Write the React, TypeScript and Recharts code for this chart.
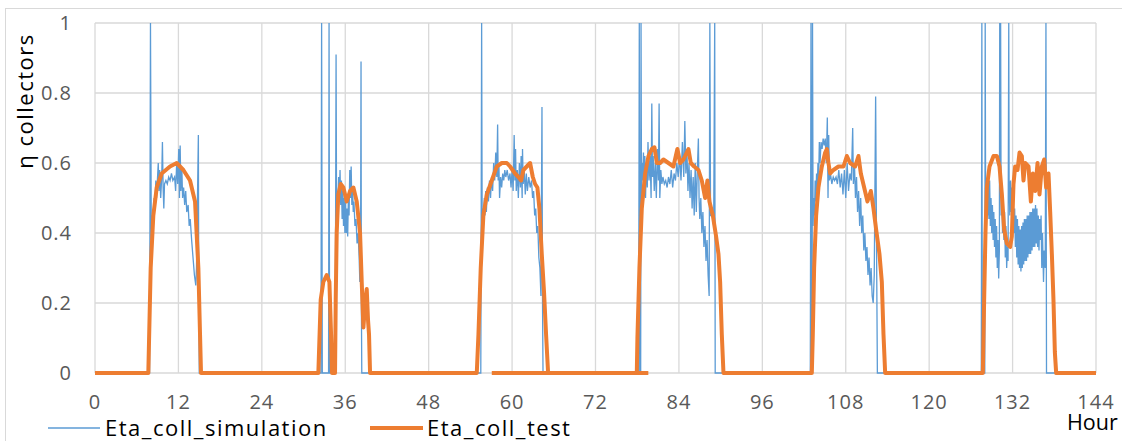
import { LineChart, Line, XAxis, YAxis, CartesianGrid } from "recharts";

const HOUR_TICKS = [0, 12, 24, 36, 48, 60, 72, 84, 96, 108, 120, 132, 144];
const ETA_TICKS = [0, 0.2, 0.4, 0.6, 0.8, 1];

const SERIES_NAMES = ["Eta_coll_simulation", "Eta_coll_test"];
const AXIS_TITLES = { y: "η collectors", x: "Hour" };

// [hour, eta]; spikes that leave the plot are set to 1
const simulation: [number, number][] = [
  [0, 0], [7.85, 0],
  [7.98, 1], [8.1, 0.38], [8.25, 0.45], [8.35, 0.42], [8.5, 0.5], [8.6, 0.47], [8.75, 0.55], [8.85, 0.5],
  [9.0, 0.56], [9.1, 0.6], [9.2, 0.52], [9.3, 0.58], [9.45, 0.5], [9.6, 0.56], [9.7, 0.66], [9.8, 0.53],
  [9.9, 0.47], [10.0, 0.54], [10.2, 0.55], [10.4, 0.54], [10.6, 0.56], [10.8, 0.55], [11.0, 0.57],
  [11.2, 0.55], [11.45, 0.56], [11.6, 0.52], [11.75, 0.6], [11.9, 0.54], [12.05, 0.64], [12.15, 0.5],
  [12.25, 0.65], [12.35, 0.52], [12.5, 0.58], [12.6, 0.5], [12.75, 0.53], [12.9, 0.48], [13.05, 0.52],
  [13.2, 0.46], [13.4, 0.48], [13.55, 0.42], [13.7, 0.44], [13.9, 0.38], [14.1, 0.33], [14.3, 0.28],
  [14.5, 0.25], [14.6, 0.3], [14.87, 0.68], [14.93, 0.2], [15.0, 0],
  [32.5, 0], [32.6, 1], [32.7, 0], [33.6, 0], [33.67, 1], [33.75, 0], [34.55, 0],
  [34.68, 0.91], [34.75, 0.45], [34.85, 0.52], [34.95, 0.49], [35.05, 0.56], [35.15, 0.5], [35.25, 0.58],
  [35.35, 0.48], [35.45, 0.55], [35.55, 0.44], [35.65, 0.52], [35.75, 0.42], [35.85, 0.5], [35.95, 0.4],
  [36.05, 0.49], [36.15, 0.4], [36.25, 0.47], [36.35, 0.39], [36.45, 0.5], [36.55, 0.45], [36.65, 0.58],
  [36.75, 0.5], [36.85, 0.59], [36.95, 0.48], [37.05, 0.53], [37.15, 0.46], [37.25, 0.49], [37.4, 0.42],
  [37.55, 0.44], [37.7, 0.37], [37.85, 0.4], [38.0, 0.33], [38.1, 0.26], [38.2, 0.3], [38.27, 0.89],
  [38.32, 0.2], [38.38, 0],
  [55.5, 0], [55.62, 1], [55.7, 0.4], [55.8, 0.47], [55.9, 0.44], [56.0, 0.5], [56.1, 0.45], [56.2, 0.52],
  [56.3, 0.46], [56.45, 0.53], [56.6, 0.49], [56.75, 0.55], [56.9, 0.5], [57.05, 0.56], [57.2, 0.52],
  [57.35, 0.6], [57.5, 0.55], [57.65, 0.63], [57.8, 0.56], [57.92, 0.71], [58.0, 0.55], [58.1, 0.6],
  [58.2, 0.5], [58.35, 0.56], [58.5, 0.53], [58.65, 0.57], [58.8, 0.55], [58.95, 0.58], [59.1, 0.56],
  [59.3, 0.58], [59.5, 0.55], [59.7, 0.57], [59.85, 0.53], [60.0, 0.58], [60.15, 0.52], [60.3, 0.68],
  [60.4, 0.55], [60.5, 0.64], [60.6, 0.52], [60.75, 0.58], [60.9, 0.5], [61.05, 0.6], [61.2, 0.53],
  [61.3, 0.62], [61.45, 0.5], [61.5, 0.64], [61.6, 0.54], [61.75, 0.58], [61.9, 0.51], [62.05, 0.57],
  [62.2, 0.52], [62.4, 0.56], [62.6, 0.53], [62.8, 0.55], [62.95, 0.5], [63.1, 0.52], [63.25, 0.45],
  [63.4, 0.47], [63.55, 0.4], [63.7, 0.42], [63.85, 0.33], [64.0, 0.3], [64.15, 0.22], [64.3, 0.76],
  [64.38, 0.2], [64.45, 0],
  [78.2, 0], [78.3, 1], [78.4, 0], [78.5, 0], [78.55, 1], [78.62, 0.5], [78.7, 0.6], [78.8, 0.55],
  [78.9, 0.63], [79.0, 0.52], [79.1, 0.62], [79.2, 0.5], [79.3, 0.6], [79.45, 0.53], [79.55, 0.66],
  [79.7, 0.55], [79.85, 0.62], [80.0, 0.5], [80.1, 0.77], [80.2, 0.56], [80.3, 0.62], [80.45, 0.52],
  [80.6, 0.6], [80.75, 0.5], [80.9, 0.64], [81.05, 0.55], [81.15, 0.77], [81.25, 0.5], [81.4, 0.58],
  [81.55, 0.54], [81.7, 0.56], [81.9, 0.54], [82.1, 0.55], [82.3, 0.53], [82.5, 0.56], [82.7, 0.54],
  [82.9, 0.58], [83.1, 0.53], [83.3, 0.57], [83.5, 0.55], [83.7, 0.6], [83.9, 0.56], [84.1, 0.62],
  [84.3, 0.55], [84.5, 0.66], [84.7, 0.56], [84.85, 0.72], [85.0, 0.57], [85.15, 0.64], [85.3, 0.52],
  [85.45, 0.6], [85.6, 0.5], [85.75, 0.58], [85.9, 0.47], [86.05, 0.56], [86.2, 0.45], [86.35, 0.6],
  [86.5, 0.46], [86.65, 0.58], [86.8, 0.67], [86.9, 0.5], [87.0, 0.44], [87.15, 0.5], [87.3, 0.4],
  [87.45, 0.46], [87.6, 0.36], [87.75, 0.42], [87.9, 0.32], [88.05, 0.38], [88.2, 0.28], [88.35, 0.22],
  [88.45, 1], [88.55, 0.45], [88.8, 0.45], [89.0, 0.42], [89.15, 1], [89.22, 0],
  [102.9, 0], [103.0, 1], [103.1, 0], [103.15, 0], [103.22, 1], [103.3, 0.42], [103.4, 0.5],
  [103.5, 0.45], [103.6, 0.55], [103.7, 0.49], [103.8, 0.57], [103.9, 0.52], [104.0, 0.6], [104.1, 0.55],
  [104.2, 0.66], [104.3, 0.6], [104.45, 0.66], [104.6, 0.64], [104.75, 0.67], [104.9, 0.65], [105.05, 0.67],
  [105.2, 0.6], [105.35, 0.73], [105.45, 0.5], [105.55, 0.68], [105.65, 0.55], [105.8, 0.57], [106.0, 0.54],
  [106.2, 0.56], [106.4, 0.55], [106.6, 0.56], [106.8, 0.54], [107.0, 0.58], [107.2, 0.53], [107.4, 0.57],
  [107.6, 0.51], [107.8, 0.58], [108.0, 0.5], [108.2, 0.6], [108.4, 0.52], [108.6, 0.57], [108.8, 0.55],
  [109.0, 0.7], [109.1, 0.54], [109.25, 0.6], [109.4, 0.5], [109.55, 0.56], [109.7, 0.46], [109.85, 0.52],
  [110.0, 0.42], [110.15, 0.5], [110.3, 0.4], [110.45, 0.45], [110.6, 0.35], [110.75, 0.4], [110.9, 0.32],
  [111.05, 0.36], [111.2, 0.28], [111.35, 0.33], [111.5, 0.25], [111.65, 0.3], [111.8, 0.22], [111.95, 0.2],
  [112.1, 0.28], [112.3, 0.79], [112.45, 0.3], [112.55, 0],
  [127.5, 0], [127.58, 1], [127.65, 0], [128.0, 0], [128.06, 1], [128.12, 0.5], [128.2, 0.42],
  [128.3, 0.54], [128.4, 0.45], [128.5, 0.56], [128.6, 0.44], [128.7, 0.55], [128.8, 0.42], [128.9, 0.5],
  [129.0, 0.4], [129.1, 0.48], [129.2, 0.38], [129.3, 0.46], [129.4, 0.36], [129.5, 0.44], [129.6, 0.33],
  [129.7, 0.42], [129.8, 0.3], [129.9, 0.38], [130.0, 0.27], [130.1, 0.35], [130.15, 1], [130.2, 0.5],
  [130.28, 1], [130.35, 0.45], [130.45, 0.52], [130.55, 0.4], [130.65, 0.5], [130.75, 0.38], [130.85, 0.46],
  [130.95, 0.33], [131.05, 0.42], [131.15, 0.3], [131.25, 0.36], [131.35, 0.32], [131.45, 1], [131.5, 0.55],
  [131.6, 0.45], [131.7, 0.55], [131.8, 0.46], [131.9, 0.53], [132.0, 0.44], [132.1, 0.5], [132.2, 0.4],
  [132.3, 0.47], [132.4, 0.36], [132.5, 0.45], [132.6, 0.33], [132.7, 0.44], [132.8, 0.31], [132.9, 0.42],
  [133.0, 0.3], [133.1, 0.41], [133.2, 0.29], [133.3, 0.42], [133.4, 0.3], [133.5, 0.43], [133.6, 0.31],
  [133.7, 0.44], [133.8, 0.32], [133.9, 0.44], [134.0, 0.32], [134.1, 0.45], [134.2, 0.33], [134.3, 0.45],
  [134.4, 0.34], [134.5, 0.46], [134.6, 0.34], [134.7, 0.46], [134.8, 0.35], [134.9, 0.47], [135.0, 0.36],
  [135.1, 0.47], [135.2, 0.36], [135.3, 0.48], [135.4, 0.37], [135.5, 0.47], [135.6, 0.36], [135.7, 0.45],
  [135.8, 0.35], [135.9, 0.44], [136.0, 0.38], [136.1, 0.45], [136.2, 0.3], [136.3, 0.4], [136.45, 0.26],
  [136.55, 0.35], [136.7, 0.3], [136.8, 1], [136.88, 0],
  [144, 0],
];

// measured curve; the null breaks the line before the stray zero stretch
const test: [number, number | null][] = [
  [0, 0], [7.67, 0], [8.01, 0.3], [8.39, 0.45], [8.88, 0.53], [9.59, 0.57], [10.79, 0.59], [11.75, 0.6],
  [12.71, 0.58], [13.67, 0.55], [14.39, 0.49], [14.87, 0.3], [15.11, 0.11], [15.25, 0],
  [32.13, 0], [32.47, 0.21], [32.85, 0.26], [33.33, 0.28], [33.72, 0.26], [33.96, 0.11], [34.1, 0],
  [34.53, 0], [34.63, 0.21], [34.77, 0.4], [35.0, 0.51], [35.35, 0.54], [35.73, 0.53], [36.21, 0.49],
  [36.69, 0.52], [37.17, 0.53], [37.65, 0.49], [38.13, 0.4], [38.37, 0.26], [38.61, 0.13], [38.9, 0.21],
  [39.09, 0.24], [39.28, 0.15], [39.42, 0.11], [39.57, 0],
  [54.92, 0], [55.16, 0.11], [55.49, 0.3], [55.87, 0.45], [56.36, 0.51], [57.08, 0.55], [57.8, 0.59],
  [58.52, 0.6], [59.24, 0.6], [59.71, 0.59], [60.43, 0.57], [60.91, 0.56], [61.3, 0.55], [61.63, 0.58],
  [62.11, 0.59], [62.59, 0.6], [62.98, 0.56], [63.31, 0.54], [63.64, 0.53], [63.93, 0.47], [64.27, 0.34],
  [64.6, 0.23], [64.89, 0.11], [65.18, 0],
  [77.94, 0], [78.03, 0.1], [78.32, 0.3], [78.66, 0.47], [79.14, 0.57], [79.62, 0.62], [80.1, 0.64],
  [80.48, 0.645], [80.82, 0.6], [81.29, 0.6], [81.77, 0.61], [82.49, 0.6], [83.21, 0.59], [83.78, 0.64],
  [84.17, 0.6], [84.65, 0.61], [85.37, 0.64], [85.71, 0.6], [86.19, 0.59], [86.81, 0.58], [87.29, 0.55],
  [87.77, 0.5], [88.1, 0.55], [88.39, 0.49], [88.88, 0.45], [89.35, 0.39], [89.69, 0.34], [89.93, 0.26],
  [90.17, 0.11], [90.41, 0],
  [103.12, 0], [103.26, 0.11], [103.45, 0.3], [103.74, 0.45], [104.07, 0.53], [104.56, 0.59], [105.04, 0.63],
  [105.28, 0.64], [105.51, 0.6], [105.76, 0.57], [106.23, 0.58], [106.95, 0.59], [107.67, 0.59],
  [108.16, 0.62], [108.63, 0.6], [109.35, 0.59], [109.83, 0.62], [110.17, 0.57], [110.65, 0.53],
  [111.12, 0.49], [111.61, 0.52], [111.99, 0.47], [112.37, 0.41], [112.85, 0.34], [113.19, 0.26],
  [113.43, 0.11], [113.67, 0],
  [127.72, 0], [127.91, 0.21], [128.1, 0.4], [128.3, 0.53], [128.68, 0.59], [129.26, 0.62], [129.74, 0.62],
  [130.12, 0.59], [130.46, 0.51], [130.79, 0.41], [131.18, 0.37], [131.65, 0.36], [131.89, 0.39],
  [132.13, 0.54], [132.37, 0.59], [132.71, 0.58], [133.0, 0.63], [133.33, 0.62], [133.57, 0.55],
  [133.81, 0.6], [134.29, 0.59], [134.63, 0.49], [134.92, 0.57], [135.25, 0.52], [135.59, 0.6],
  [135.87, 0.51], [136.21, 0.59], [136.55, 0.61], [136.83, 0.53], [137.17, 0.57], [137.41, 0.46],
  [137.65, 0.34], [137.88, 0.21], [138.08, 0.06], [138.27, 0], [144, 0],
  [57.08, null], [57.08, 0], [79.6, 0],
];

const BLUE = "#5B9BD5";
const ORANGE = "#ED7D31";
const FONT = "'Open Sans', sans-serif";

const toRows = (pts: [number, number | null][]) => pts.map(([hour, eta]) => ({ hour, eta }));

export default function App() {
  const simRows = toRows(simulation);
  const testRows = toRows(test);

  return (
    <div style={{ position: "fixed", left: 0, top: 0, width: 1122, height: 441, overflow: "hidden", background: "#fff" }}>
      {/* chart frame */}
      <div style={{ position: "absolute", left: 5, top: 8, width: 1400, height: 800, border: "1px solid #d9d9d9" }} />
      <div style={{ position: "absolute", left: 0, top: 0 }}>
        <LineChart width={1122} height={441} margin={{ top: 23, right: 26, bottom: 0, left: 0 }}>
          <CartesianGrid stroke="#d9d9d9" strokeWidth={1.3} />
          <XAxis
            type="number"
            dataKey="hour"
            domain={[0, 144]}
            ticks={HOUR_TICKS}
            height={68}
            tickLine={false}
            tickMargin={16}
            axisLine={false}
            tick={{ fill: "#595959", fontSize: 20, fontFamily: FONT, letterSpacing: 1 }}
          />
          <YAxis
            type="number"
            domain={[0, 1]}
            ticks={ETA_TICKS}
            width={95}
            tickLine={false}
            axisLine={false}
            tickMargin={17}
            tick={{ fill: "#595959", fontSize: 20, fontFamily: FONT, letterSpacing: 1 }}
          />
          <Line
            data={simRows}
            dataKey="eta"
            type="linear"
            stroke={BLUE}
            strokeWidth={1.3}
            dot={false}
            isAnimationActive={false}
          />
          <Line
            data={testRows}
            dataKey="eta"
            type="linear"
            stroke={ORANGE}
            strokeWidth={4}
            strokeLinejoin="round"
            dot={false}
            isAnimationActive={false}
          />
        </LineChart>
      </div>
      <svg width={1122} height={441} style={{ position: "absolute", left: 0, top: 0, pointerEvents: "none" }}>
        <text
          x={33}
          y={101}
          transform="rotate(-90, 33, 101)"
          textAnchor="middle"
          fontFamily={FONT}
          fontSize={22}
          letterSpacing={1.5}
          fill="#000"
        >
          {AXIS_TITLES.y}
        </text>
        <text x={1067} y={430} fontFamily={FONT} fontSize={21.5} fill="#000">
          {AXIS_TITLES.x}
        </text>
        <line x1={48} y1={428} x2={100} y2={428} stroke={BLUE} strokeWidth={1.5} />
        <text x={105} y={436} fontFamily={FONT} fontSize={22} letterSpacing={1.5} fill="#000">
          {SERIES_NAMES[0]}
        </text>
        <line x1={370} y1={428} x2={423} y2={428} stroke={ORANGE} strokeWidth={4} />
        <text x={427} y={436} fontFamily={FONT} fontSize={22} letterSpacing={1.5} fill="#000">
          {SERIES_NAMES[1]}
        </text>
      </svg>
    </div>
  );
}
